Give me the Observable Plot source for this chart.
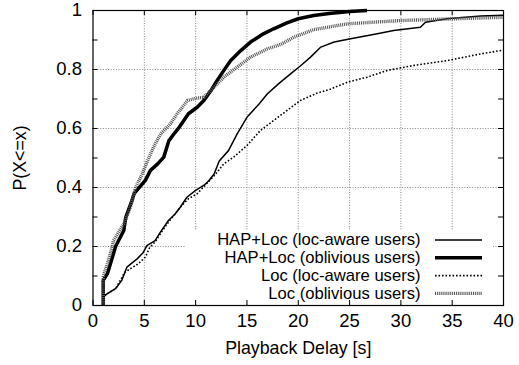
<!DOCTYPE html>
<html><head><meta charset="utf-8">
<script src="https://cdn.jsdelivr.net/npm/d3@7"></script>
<script src="https://cdn.jsdelivr.net/npm/@observablehq/plot@0.6"></script>
<style>body{margin:0;background:#fff}</style>
</head><body><div id="chart"></div>
<script>
// ---- data ----
const seriesNames = [
  "HAP+Loc (loc-aware users)",
  "HAP+Loc (oblivious users)",
  "Loc (loc-aware users)",
  "Loc (oblivious users)"
];
const hapAwareX = [1, 1, 1.4, 2.2, 2.8, 3.3, 4.3, 4.9, 5.25, 6.05, 6.55, 7.35, 8.0, 8.5, 9.15, 10.0, 10.9, 11.3, 11.8, 12.3, 13.2, 14.05, 15.0, 16.2, 17.0, 18.1, 19.25, 20.2, 21.2, 22.2, 23.5, 25.1, 27.7, 29.3, 31.9, 32.4, 34.5, 37.8, 40];
const hapAwareY = [0, 0.03, 0.04, 0.057, 0.085, 0.13, 0.158, 0.18, 0.203, 0.22, 0.248, 0.288, 0.31, 0.333, 0.367, 0.39, 0.41, 0.424, 0.446, 0.49, 0.525, 0.582, 0.638, 0.684, 0.718, 0.752, 0.785, 0.812, 0.842, 0.876, 0.893, 0.904, 0.921, 0.932, 0.943, 0.96, 0.972, 0.981, 0.984];
const hapObliviousX = [1, 1, 1.4, 2.0, 2.2, 3.0, 3.2, 3.8, 4.0, 5.1, 5.6, 6.3, 6.9, 7.2, 7.4, 7.9, 8.4, 8.85, 9.3, 10.15, 10.8, 11.5, 12.1, 12.75, 13.4, 14.4, 15.35, 16.6, 17.6, 18.9, 20.0, 21.5, 23.0, 25.0, 26.7];
const hapObliviousY = [0, 0.085, 0.108, 0.176, 0.2, 0.254, 0.3, 0.356, 0.379, 0.424, 0.458, 0.48, 0.503, 0.537, 0.559, 0.582, 0.604, 0.627, 0.65, 0.672, 0.695, 0.729, 0.763, 0.797, 0.83, 0.864, 0.893, 0.921, 0.938, 0.958, 0.972, 0.983, 0.99, 0.997, 1.0];
const locAwareX = [1, 1, 1.4, 2.2, 3.1, 4.4, 5.1, 5.5, 6.1, 6.6, 7.4, 8.0, 8.5, 9.3, 10.15, 11.0, 11.8, 12.75, 13.7, 15.0, 16.3, 17.6, 18.9, 20.2, 21.85, 23.1, 24.8, 26.7, 28.7, 31.3, 34.5, 37.8, 40];
const locAwareY = [0, 0.03, 0.04, 0.057, 0.113, 0.141, 0.164, 0.195, 0.218, 0.245, 0.285, 0.31, 0.333, 0.362, 0.379, 0.41, 0.44, 0.48, 0.503, 0.542, 0.593, 0.627, 0.661, 0.695, 0.72, 0.733, 0.757, 0.774, 0.797, 0.814, 0.83, 0.853, 0.866];
const locObliviousX = [1, 1, 1.3, 1.7, 2.0, 3.0, 3.65, 4.15, 4.8, 5.3, 5.9, 6.6, 7.55, 8.2, 8.7, 9.2, 10.0, 10.8, 11.8, 12.75, 14.05, 15.35, 17.0, 18.3, 19.6, 21.5, 24.8, 30, 35.2, 40];
const locObliviousY = [0, 0.1, 0.13, 0.176, 0.22, 0.277, 0.333, 0.40, 0.446, 0.49, 0.537, 0.582, 0.616, 0.65, 0.672, 0.695, 0.702, 0.706, 0.74, 0.774, 0.808, 0.842, 0.87, 0.885, 0.91, 0.935, 0.955, 0.966, 0.972, 0.977];

const xTicks = [0, 5, 10, 15, 20, 25, 30, 35, 40];
const yTicks = [0, 0.2, 0.4, 0.6, 0.8, 1];
const yMinorTicks = [0.1, 0.2, 0.3, 0.4, 0.5, 0.6, 0.7, 0.8, 0.9];
const xGrid = [5, 10, 15, 20, 25, 30, 35];
const yGrid = [0.2, 0.4, 0.6, 0.8];
const xLabel = "Playback Delay [s]";
const yLabel = "P(X<=x)";

// ---- layout / style ----
const W = 519, H = 365;
const mL = 92.5, mR = 16, mT = 10, mB = 60;
const plotW = W - mL - mR, plotH = H - mT - mB;
const xDomain = [0, 40], yDomain = [0, 1];
const pxX = p => p * (xDomain[1] - xDomain[0]) / plotW;
const pxY = p => p * (yDomain[1] - yDomain[0]) / plotH;
const tickLen = 5;
const font = "Liberation Sans, Arial, Helvetica, sans-serif";
const tickFont = 18.5;
const legendFont = 16.6;
const labelFont = 17.8;

const styles = [
  {stroke: "black", strokeWidth: 1.5, strokeDasharray: null},
  {stroke: "black", strokeWidth: 3.5, strokeDasharray: null},
  {stroke: "black", strokeWidth: 1.6, strokeDasharray: "1.6,1.9"},
  {stroke: "#555", strokeWidth: 3.4, strokeDasharray: "1,0.9"}
];

const seriesXs = [hapAwareX, hapObliviousX, locAwareX, locObliviousX];
const seriesYs = [hapAwareY, hapObliviousY, locAwareY, locObliviousY];

// legend box (in pixel offsets from the frame)
const legendBox = {x1: xDomain[0] + pxX(185 - mL), x2: xDomain[0] + pxX(493 - mL), y1: pxY(305 - 302), y2: pxY(305 - 230)};
const legendTextX = pxX(420 - mL);
const legendSample = [pxX(435 - mL), pxX(482 - mL)];
const legendTopY = pxY(305 - 239.5);
const legendStep = pxY(17.8);

const marks = [];
// grid
marks.push(Plot.ruleX(xGrid, {x: d => d, stroke: "#888", strokeWidth: 1, strokeDasharray: "1,1.6"}));
marks.push(Plot.ruleY(yGrid, {y: d => d, stroke: "#888", strokeWidth: 1, strokeDasharray: "1,1.6"}));
// legend box masks grid
marks.push(Plot.rect([legendBox], {x1: "x1", x2: "x2", y1: "y1", y2: "y2", fill: "white"}));
// curves
seriesNames.forEach((name, i) => {
  const data = seriesXs[i].map((x, j) => ({x, y: seriesYs[i][j]}));
  const s = styles[i];
  marks.push(Plot.line(data, {x: "x", y: "y", stroke: s.stroke, strokeWidth: s.strokeWidth,
    strokeDasharray: s.strokeDasharray || undefined, strokeLinecap: "butt", strokeLinejoin: "round"}));
  const ly = legendTopY - i * legendStep;
  marks.push(Plot.text([name], {x: legendTextX, y: ly, text: d => d, textAnchor: "end", fill: "black", fontSize: legendFont}));
  marks.push(Plot.ruleY([ly], {y: d => d, x1: legendSample[0], x2: legendSample[1], stroke: s.stroke, strokeWidth: s.strokeWidth,
    strokeDasharray: s.strokeDasharray || undefined, strokeLinecap: "butt"}));
});
// ticks (inward, mirrored)
marks.push(Plot.ruleX(xTicks, {x: d => d, y1: yDomain[0], y2: yDomain[0] + pxY(tickLen), stroke: "black"}));
marks.push(Plot.ruleX(xTicks, {x: d => d, y1: yDomain[1], y2: yDomain[1] - pxY(tickLen), stroke: "black"}));
marks.push(Plot.ruleY(yMinorTicks, {y: d => d, x1: xDomain[0], x2: xDomain[0] + pxX(tickLen), stroke: "black"}));
marks.push(Plot.ruleY(yMinorTicks, {y: d => d, x1: xDomain[1], x2: xDomain[1] - pxX(tickLen), stroke: "black"}));
// frame
marks.push(Plot.frame({stroke: "black", strokeWidth: 1.2}));
// axes labels
marks.push(Plot.axisX(xTicks, {tickSize: 0, tickPadding: 8, label: null, tickFormat: d => String(d), fontSize: tickFont, fill: "black"}));
marks.push(Plot.axisY(yTicks, {tickSize: 0, tickPadding: 11, label: null, tickFormat: d => String(d), fontSize: tickFont, fill: "black"}));
marks.push(Plot.text([xLabel], {frameAnchor: "bottom", dy: 48, text: d => d, fontSize: labelFont, fill: "black"}));
marks.push(Plot.text([yLabel], {frameAnchor: "left", dx: -72.5, rotate: -90, textAnchor: "middle", text: d => d, fontSize: labelFont, fill: "black"}));

const chart = Plot.plot({
  width: W, height: H,
  marginLeft: mL, marginRight: mR, marginTop: mT, marginBottom: mB,
  x: {domain: xDomain, label: null},
  y: {domain: yDomain, label: null},
  style: {fontFamily: font, fontSize: legendFont + "px", background: "white", color: "black"},
  marks
});
document.getElementById("chart").appendChild(chart);
</script></body></html>
